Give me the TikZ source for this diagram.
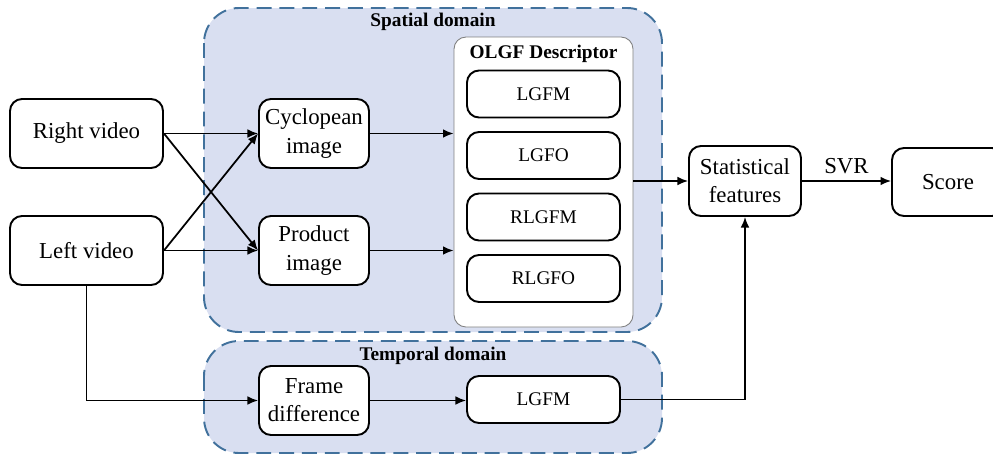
\documentclass[tikz,border=0pt]{standalone}
\usepackage{fontspec}
\setmainfont{Liberation Serif}
\usetikzlibrary{arrows.meta,calc,positioning}
\definecolor{domfill}{HTML}{D9DFF1}
\definecolor{domline}{HTML}{41719C}
\tikzset{flow/.style={-{Latex[length=6pt,width=5pt]}, line width=1pt},
  blk/.style={draw, line width=1.1pt, rounded corners=2.4mm, fill=white, align=center,
    font=\fontsize{13}{16}\selectfont},
  feat/.style={blk, minimum width=30.6mm, minimum height=9.4mm, font=\fontsize{11}{13}\selectfont},
  dombox/.style={draw=domline, fill=domfill, line width=1.1pt, dash pattern=on 8.5pt off 4.5pt, rounded corners=7mm},
  domtitle/.style={font=\fontsize{11}{13}\selectfont\bfseries}}

\begin{document}
\begin{tikzpicture}
  \useasboundingbox (0,0) rectangle (19.86,-9.12);
  % domains
  \draw[dombox] (4.08,-0.16) rectangle (13.24,-6.64);
  \draw[dombox] (4.08,-6.82) rectangle (13.24,-9.06);
  \node[domtitle] (spat) at (8.66,-0.44) {Spatial domain};
  \node[domtitle] (temp) at (8.66,-7.12) {Temporal domain};
  % inputs
  \node[blk, minimum width=30.6mm, minimum height=13.8mm] (right) at (1.73,-2.67) {Right video};
  \node[blk, minimum width=30.6mm, minimum height=13.8mm] (left) at (1.73,-5.01) {Left video};
  \node[blk, minimum width=22mm, minimum height=13.8mm] (cyc) at (6.28,-2.67) {Cyclopean\\image};
  \node[blk, minimum width=22mm, minimum height=13.8mm] (prod) at (6.28,-5.01) {Product\\image};
  % descriptor
  \node[draw=gray, line width=0.5pt, rounded corners=2.4mm, fill=white, minimum width=35.8mm, minimum height=58mm] (olgf) at (10.87,-3.64) {};
  \node[domtitle, below=0.5mm of olgf.north] (olgft) {OLGF Descriptor};
  \foreach \n/\t [count=\i] in {fm/LGFM, fo/LGFO, rfm/RLGFM, rfo/RLGFO}{
    \node[feat] (\n) at (10.87,{-1.88-1.23*(\i-1)}) {\t};
  }
  \node[blk, minimum width=22.4mm, minimum height=14mm] (stat) at (14.9,-3.62) {Statistical\\features};
  \node[blk, minimum width=22.4mm, minimum height=13.6mm] (score) at (18.96,-3.64) {Score};
  % temporal path
  \node[blk, minimum width=22mm, minimum height=13.8mm] (frame) at (6.28,-8.01) {Frame\\difference};
  \node[feat] (tfm) at (10.87,-7.99) {LGFM};
  % connectors
  \draw[flow] (right.east) -- (cyc.west);
  \draw[flow] (right.east) -- (prod.west);
  \draw[flow] (left.east) -- (cyc.west);
  \draw[flow] (left.east) -- (prod.west);
  \draw[flow] (cyc.east) -- (cyc.east -| olgf.west);
  \draw[flow] (prod.east) -- (prod.east -| olgf.west);
  \draw[flow] (olgf.east |- stat.west) -- (stat.west);
  \draw[flow] (stat.east) -- node[above, font=\fontsize{13}{16}\selectfont]{SVR} (stat.east -| score.west);
  \draw[flow] (left.south) |- (frame.west);
  \draw[flow] (frame.east) -- (frame.east -| tfm.west);
  \draw[flow] (tfm.east) -| (stat.south);
\end{tikzpicture}
\end{document}
